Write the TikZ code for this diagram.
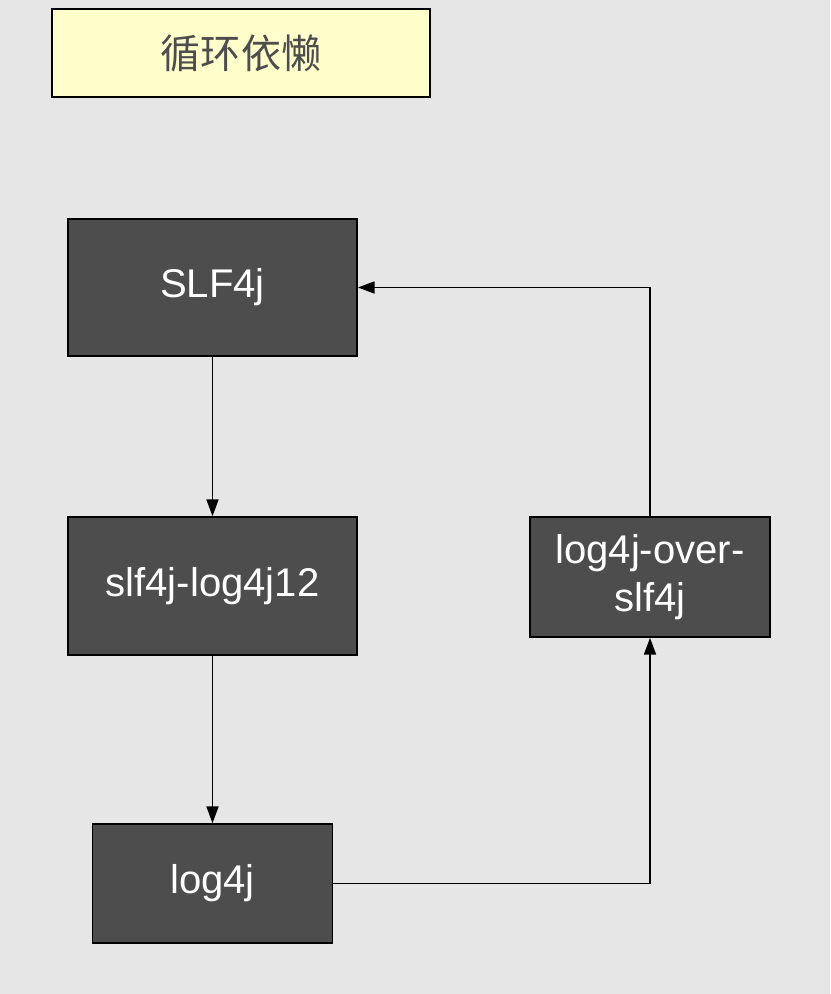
\documentclass[tikz,border=0pt]{standalone}
\usepackage{fontspec}
\setmainfont{Liberation Sans}
\newfontfamily\cjk{Noto Sans CJK SC}
\usepackage{tikz}
\usetikzlibrary{arrows.meta,positioning}
\definecolor{canvas}{HTML}{E6E6E6}
\definecolor{note}{HTML}{FFFFCC}
\definecolor{dark}{HTML}{4D4D4D}
\definecolor{titletext}{HTML}{4D4D4D}

\begin{document}
\begin{tikzpicture}[
  x=0.025cm,y=-0.025cm,
  title/.style={draw=black,fill=note,line width=1.1pt,minimum width=9.45cm,minimum height=2.2cm,text=titletext,font=\cjk\fontsize{28.5}{33}\selectfont},
  box/.style={draw=black,fill=dark,line width=1.1pt,text=white,align=center,inner sep=0pt,font=\fontsize{28.5}{34}\selectfont},
  arrow/.style={-{Triangle[length=0.42cm,width=0.3cm]},line width=1.2pt,black}
]
\fill[canvas] (0,0) rectangle (830,994);
\useasboundingbox (0,0) rectangle (830,994);
\node[title] (head) at (241,53) {循环依懒};
\node[box,minimum width=7.225cm,minimum height=3.425cm] (slf) at (212.5,287.5) {SLF4j};
\node[box,minimum width=7.225cm,minimum height=3.45cm] (bind) at (212.5,586) {slf4j-log4j12};
\node[box,minimum width=6cm,minimum height=2.975cm] (log) at (212.5,883.5) {log4j};
\node[box,minimum width=6cm,minimum height=3cm] (over) at (650,577) {log4j-over-\\slf4j};
\draw[arrow] (slf.south) -- (bind.north);
\draw[arrow] (bind.south) -- (log.north);
\draw[arrow] (log.east) -| (over.south);
\draw[arrow] (over.north) |- (slf.east);
\end{tikzpicture}
\end{document}
